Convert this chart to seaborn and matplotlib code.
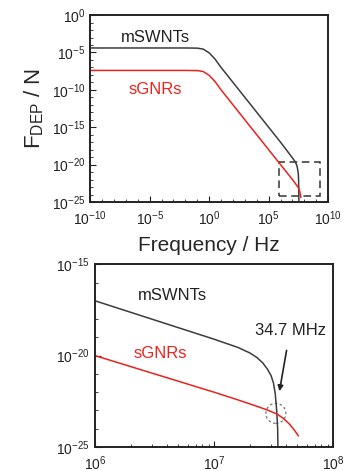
import numpy as np
import pandas as pd
import matplotlib.pyplot as plt
import matplotlib.ticker as mticker
from matplotlib.patches import Rectangle, Circle
from matplotlib.transforms import ScaledTranslation
import seaborn as sns

# log10 of frequency (Hz) and of DEP force (N)
mswnt_logf = [-10, -2, -1, -0.5, 0, 0.5, 1, 2, 3, 4, 5, 6, 6.5, 7.0, 7.2, 7.3, 7.36, 7.41, 7.45,
              7.48, 7.5, 7.515, 7.527, 7.535, 7.54]
mswnt_logF = [-4.4, -4.4, -4.42, -4.55, -5.05, -5.9, -7.0, -9.0, -11.0, -13.0, -15.0, -17.0, -18.05,
              -19.1, -19.55, -19.85, -20.1, -20.4, -20.75, -21.1, -21.5, -22.1, -23.0, -24.0, -26.0]
sgnr_logf = [-10, -2, -1, -0.5, 0, 0.5, 1, 2, 3, 4, 5, 6, 7.0, 7.2, 7.35, 7.45, 7.53, 7.58, 7.63,
             7.67, 7.71]
sgnr_logF = [-7.4, -7.4, -7.42, -7.55, -8.05, -8.9, -10.0, -12.0, -14.0, -16.0, -18.0, -20.0, -22.0,
             -22.42, -22.75, -22.98, -23.2, -23.42, -23.72, -24.03, -24.4]

cross_freq_label = "34.7 MHz"
zoom_box = (10**5.9, 10**9.3, 10**-24.2, 10**-19.7)  # x0, x1, y0, y1

df = pd.concat([
    pd.DataFrame({"f": 10.0 ** np.array(mswnt_logf), "F": 10.0 ** np.array(mswnt_logF), "s": "mSWNTs"}),
    pd.DataFrame({"f": 10.0 ** np.array(sgnr_logf), "F": 10.0 ** np.array(sgnr_logF), "s": "sGNRs"}),
])
palette = {"mSWNTs": "#3c3c3c", "sGNRs": "#e8231c"}

sns.set_style("ticks")
plt.rcParams['font.family'] = ['Liberation Sans', 'DejaVu Sans']
plt.rcParams['mathtext.default'] = 'regular'
plt.rcParams['axes.linewidth'] = 1.4

fig = plt.figure(figsize=(3.44, 4.71), dpi=100)
ax1 = fig.add_axes([0.262, 0.571, 0.692, 0.397])
ax2 = fig.add_axes([0.276, 0.051, 0.692, 0.388])

for ax in (ax1, ax2):
    sns.lineplot(data=df, x="f", y="F", hue="s", palette=palette, ax=ax, legend=False,
                 linewidth=1.1, sort=False, estimator=None)
    ax.set_xscale("log")
    ax.set_yscale("log")
    ax.set_xlabel("")
    ax.set_ylabel("")
    ax.tick_params(which="both", direction="in", labelsize=10, colors="#222222")
    ax.tick_params(which="major", length=4)
    ax.tick_params(which="minor", length=2)
    ax.tick_params(axis="x", which="major", pad=5)
    for sp in ax.spines.values():
        sp.set_color("#222222")

# top panel
ax1.set_xlim(1e-10, 1e10)
ax1.set_ylim(1e-25, 1e0)
ax1.xaxis.set_major_locator(mticker.FixedLocator([10.0 ** k for k in range(-10, 11, 5)]))
ax1.xaxis.set_minor_locator(mticker.FixedLocator([10.0 ** k for k in range(-10, 11)]))
ax1.yaxis.set_major_locator(mticker.FixedLocator([10.0 ** k for k in range(-25, 1, 5)]))
ax1.yaxis.set_minor_locator(mticker.FixedLocator([10.0 ** k for k in range(-25, 1)]))
ax1.xaxis.set_minor_formatter(mticker.NullFormatter())
ax1.yaxis.set_minor_formatter(mticker.NullFormatter())
ax1.set_xlabel("Frequency / Hz", fontsize=15, labelpad=6)
ax1.set_ylabel("F$_\\mathregular{DEP}$ / N", fontsize=16, labelpad=4)
ax1.text(10**-4.5, 10**-3.0, "mSWNTs", fontsize=12, color="#222222", ha="center", va="center")
ax1.text(10**-4.5, 10**-9.9, "sGNRs", fontsize=12, color="#e8231c", ha="center", va="center")
x0, x1, y0, y1 = zoom_box
ax1.add_patch(Rectangle((x0, y0), x1 - x0, y1 - y0, fill=False, ls=(0, (5, 3)), lw=1.1, color="#333333"))

# bottom panel (zoom)
ax2.set_xlim(1e6, 1e8)
ax2.set_ylim(1e-25, 1e-15)
ax2.yaxis.set_major_locator(mticker.FixedLocator([1e-25, 1e-20, 1e-15]))
ax2.yaxis.set_minor_locator(mticker.FixedLocator([10.0 ** k for k in range(-25, -14)]))
ax2.yaxis.set_minor_formatter(mticker.NullFormatter())
ax2.xaxis.set_minor_formatter(mticker.NullFormatter())
ax2.text(10**6.65, 10**-16.7, "mSWNTs", fontsize=12, color="#222222", ha="center", va="center")
ax2.text(10**6.55, 10**-19.9, "sGNRs", fontsize=12, color="#e8231c", ha="center", va="center")
ax2.annotate(cross_freq_label, xy=(10**7.55, 10**-21.95), xytext=(10**7.64, 10**-18.6),
             fontsize=12, color="#222222", ha="center", va="center",
             arrowprops=dict(arrowstyle="-|>", color="#222222", lw=1.2, shrinkA=7, shrinkB=0,
                             mutation_scale=8))
circ = Circle((0, 0), radius=0.1, fill=False, ls=(0, (2, 2)), lw=0.9, color="#777777",
              transform=fig.dpi_scale_trans + ScaledTranslation(10**7.52, 10**-23.16, ax2.transData))
ax2.add_patch(circ)

fig.savefig("out.png", dpi=100)
